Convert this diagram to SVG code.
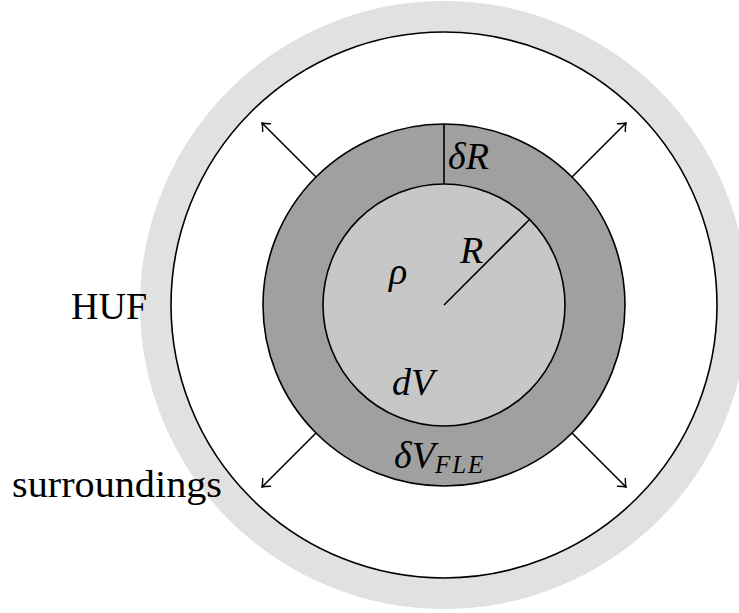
<svg xmlns="http://www.w3.org/2000/svg" width="739" height="613" viewBox="0 0 739 613">
<style>
.ln{stroke:#000;stroke-width:1.6;fill:none}
.circ{stroke:#000;stroke-width:1.6}
.t{font-family:'Liberation Serif','Times New Roman',Times,Tinos,'Noto Serif','DejaVu Serif',FreeSerif,serif;font-size:38px;fill:#000}
.m{font-style:italic}
</style>
<defs>
<marker id="ah" markerUnits="userSpaceOnUse" markerWidth="14" markerHeight="14" viewBox="-8 -7 10 14" refX="0" refY="0" orient="auto">
<path d="M -6.5,-5.5 Q -2,-1.2 0,0 Q -2,1.2 -6.5,5.5" fill="none" stroke="#000" stroke-width="1.4" stroke-linecap="round"/>
</marker>
</defs>
<rect width="739" height="613" fill="#fff"/>
<g id="surroundings-region">
<circle cx="444" cy="305" r="304" fill="#e1e1e1"/>
</g>
<g id="huf">
<circle class="circ" cx="444" cy="305" r="273" fill="#fff"/>
</g>
<g id="fle-shell">
<circle class="circ" cx="444" cy="305" r="181" fill="#a0a0a0"/>
</g>
<g id="inner-volume">
<circle class="circ" cx="444" cy="305" r="121" fill="#c7c7c7"/>
</g>
<g id="connectors">
<line class="ln" x1="444" y1="124" x2="444" y2="184"/>
<line class="ln" x1="444" y1="305" x2="529" y2="220"/>
<line class="ln" x1="316" y1="177" x2="262" y2="123" marker-end="url(#ah)"/>
<line class="ln" x1="572" y1="177" x2="626" y2="123" marker-end="url(#ah)"/>
<line class="ln" x1="316" y1="433" x2="262" y2="487" marker-end="url(#ah)"/>
<line class="ln" x1="572" y1="433" x2="626" y2="487" marker-end="url(#ah)"/>
</g>
<g id="labels">
<text class="t m" x="448" y="169">δR</text>
<text class="t m" x="460" y="263">R</text>
<text class="t m" x="389" y="284">ρ</text>
<text class="t m" x="392" y="395">dV</text>
<text class="t m" x="394" y="468">δV<tspan font-size="25" dy="5" letter-spacing="2">FLE</tspan></text>
<text class="t" x="71" y="319">HUF</text>
<text class="t" x="12" y="497" textLength="210" lengthAdjust="spacingAndGlyphs">surroundings</text>
</g>
</svg>
